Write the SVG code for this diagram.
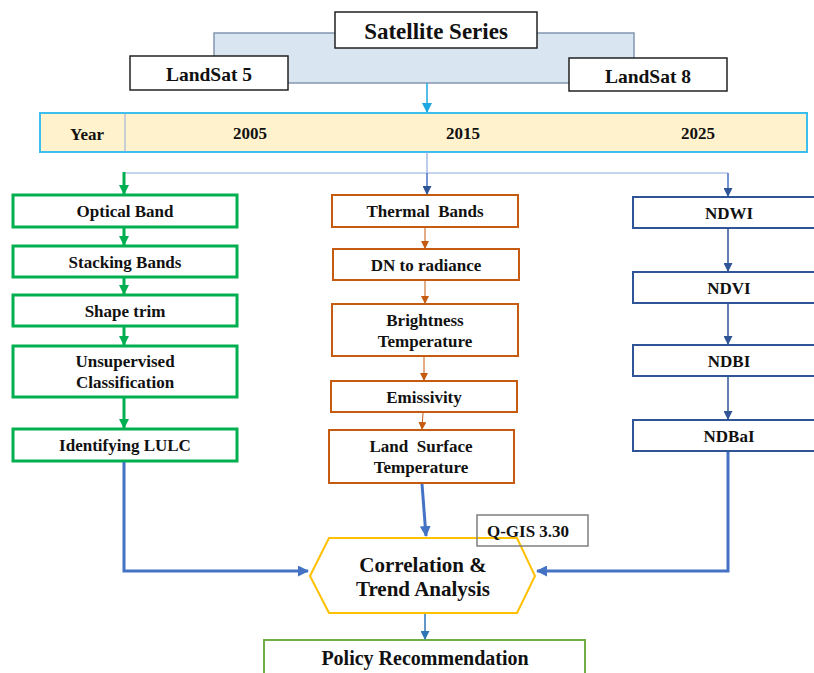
<svg xmlns="http://www.w3.org/2000/svg" width="814" height="673" viewBox="0 0 814 673">
<defs>
<style>
text{font-family:"Liberation Serif","Times New Roman",serif;font-weight:bold;fill:#111;text-anchor:middle;dominant-baseline:central;white-space:pre}
.box{fill:#fff;stroke:#222;stroke-width:1.5}
.g{fill:#fff;stroke:#00B050;stroke-width:3}
.o{fill:#fff;stroke:#C55A11;stroke-width:2}
.b{fill:#fff;stroke:#2F5597;stroke-width:2}
.t15{font-size:17px}
</style>
<marker id="aCyan" markerUnits="userSpaceOnUse" markerWidth="10" markerHeight="10" refX="9" refY="5" orient="auto"><path d="M0,0 L10,5 L0,10 Z" fill="#1CA8E0"/></marker>
<marker id="aGreen" markerUnits="userSpaceOnUse" markerWidth="10" markerHeight="10" refX="9" refY="5" orient="auto"><path d="M0,0 L10,5 L0,10 Z" fill="#00B050"/></marker>
<marker id="aOrange" markerUnits="userSpaceOnUse" markerWidth="8" markerHeight="8" refX="7" refY="4" orient="auto"><path d="M0,0 L8,4 L0,8 Z" fill="#C55A11"/></marker>
<marker id="aNavy" markerUnits="userSpaceOnUse" markerWidth="9" markerHeight="9" refX="8" refY="4.5" orient="auto"><path d="M0,0 L9,4.5 L0,9 Z" fill="#2F5597"/></marker>
<marker id="aBlue" markerUnits="userSpaceOnUse" markerWidth="11" markerHeight="11" refX="10" refY="5.5" orient="auto"><path d="M0,0 L11,5.5 L0,11 Z" fill="#4472C4"/></marker>
<marker id="aSky" markerUnits="userSpaceOnUse" markerWidth="9" markerHeight="9" refX="8" refY="4.5" orient="auto"><path d="M0,0 L9,4.5 L0,9 Z" fill="#2E75B6"/></marker>
</defs>
<rect width="814" height="673" fill="#fff"/>

<g id="satellite-band">
<rect x="214" y="33" width="420" height="50" fill="#DAE5F2" stroke="#8497B0" stroke-width="1.5"/>
</g>
<g id="satellite-series">
<rect class="box" x="335" y="12" width="202" height="36"/>
<text x="436" y="31" font-size="23">Satellite Series</text>
</g>
<g id="landsat5">
<rect class="box" x="130" y="56" width="158" height="34"/>
<text x="209" y="74" font-size="19.5">LandSat 5</text>
</g>
<g id="landsat8">
<rect class="box" x="569" y="58" width="158" height="33"/>
<text x="648" y="76" font-size="19.5">LandSat 8</text>
</g>

<g id="year-bar">
<rect x="40" y="113" width="767" height="39" fill="#FFF2CC" stroke="#3BBFEF" stroke-width="2"/>
<line x1="125" y1="113" x2="125" y2="152" stroke="#8FAADC" stroke-width="1"/>
<text x="87" y="134" class="t15">Year</text>
<text x="250" y="133" class="t15">2005</text>
<text x="463" y="133" class="t15">2015</text>
<text x="698" y="133" class="t15">2025</text>
</g>

<g id="optical-band"><rect class="g" x="13" y="195" width="224" height="32"/><text x="125" y="211" class="t15">Optical Band</text></g>
<g id="stacking-bands"><rect class="g" x="13" y="246" width="224" height="31"/><text x="125" y="262" class="t15">Stacking Bands</text></g>
<g id="shape-trim"><rect class="g" x="13" y="295" width="224" height="31"/><text x="125" y="311" class="t15">Shape trim</text></g>
<g id="unsupervised"><rect class="g" x="13" y="346" width="224" height="51"/><text x="125" y="361" class="t15">Unsupervised</text><text x="125" y="382" class="t15">Classification</text></g>
<g id="identifying-lulc"><rect class="g" x="13" y="429" width="224" height="32"/><text x="125" y="445" class="t15">Identifying LULC</text></g>

<g id="thermal-bands"><rect class="o" x="332" y="195" width="186" height="32"/><text x="425" y="211" class="t15" xml:space="preserve">Thermal  Bands</text></g>
<g id="dn-radiance"><rect class="o" x="333" y="249" width="186" height="31"/><text x="426" y="265" class="t15">DN to radiance</text></g>
<g id="brightness"><rect class="o" x="332" y="304" width="186" height="52"/><text x="425" y="320" class="t15">Brightness</text><text x="425" y="341" class="t15">Temperature</text></g>
<g id="emissivity"><rect class="o" x="331" y="381" width="186" height="31"/><text x="424" y="397" class="t15">Emissivity</text></g>
<g id="lst"><rect class="o" x="329" y="430" width="185" height="53"/><text x="421" y="446" class="t15" xml:space="preserve">Land  Surface</text><text x="421" y="467" class="t15">Temperature</text></g>

<g id="ndwi"><rect class="b" x="633" y="197" width="190" height="31"/><text x="729" y="213" class="t15">NDWI</text></g>
<g id="ndvi"><rect class="b" x="633" y="272" width="190" height="31"/><text x="729" y="288" class="t15">NDVI</text></g>
<g id="ndbi"><rect class="b" x="633" y="345" width="190" height="31"/><text x="729" y="361" class="t15">NDBI</text></g>
<g id="ndbai"><rect class="b" x="633" y="420" width="190" height="31"/><text x="729" y="436" class="t15">NDBaI</text></g>

<g id="correlation">
<polygon points="310,576 329,538 517,538 535,576 517,613 329,613" fill="#fff" stroke="#FFC000" stroke-width="2"/>
<text x="423" y="565" font-size="21">Correlation &amp;</text>
<text x="423" y="589" font-size="21">Trend Analysis</text>
</g>
<g id="qgis">
<rect x="477" y="515" width="111" height="31" fill="none" stroke="#7F7F7F" stroke-width="1.5"/>
<text x="528" y="531" font-size="17">Q-GIS 3.30</text>
</g>
<g id="policy">
<rect x="264" y="640" width="321" height="40" fill="#fff" stroke="#70AD47" stroke-width="2"/>
<text x="425" y="658" font-size="20">Policy Recommendation</text>
</g>

<g id="connectors" fill="none">
<line x1="427" y1="83" x2="427" y2="112" stroke="#1CA8E0" stroke-width="1.5" marker-end="url(#aCyan)"/>
<line x1="427" y1="152" x2="427" y2="173" stroke="#8FAADC" stroke-width="1.2"/>
<line x1="124" y1="173" x2="728" y2="173" stroke="#8FAADC" stroke-width="1.2"/>
<line x1="124" y1="172" x2="124" y2="194" stroke="#00B050" stroke-width="3" marker-end="url(#aGreen)"/>
<line x1="427" y1="173" x2="427" y2="194" stroke="#4472C4" stroke-width="1.5" marker-end="url(#aNavy)"/>
<line x1="728" y1="173" x2="728" y2="196" stroke="#4472C4" stroke-width="1.5" marker-end="url(#aNavy)"/>
<line x1="124" y1="228" x2="124" y2="245" stroke="#00B050" stroke-width="3" marker-end="url(#aGreen)"/>
<line x1="124" y1="278" x2="124" y2="294" stroke="#00B050" stroke-width="3" marker-end="url(#aGreen)"/>
<line x1="124" y1="327" x2="124" y2="345" stroke="#00B050" stroke-width="3" marker-end="url(#aGreen)"/>
<line x1="124" y1="398" x2="124" y2="428" stroke="#00B050" stroke-width="3" marker-end="url(#aGreen)"/>
<line x1="425" y1="228" x2="425" y2="248" stroke="#C55A11" stroke-width="1" marker-end="url(#aOrange)"/>
<line x1="425" y1="281" x2="425" y2="303" stroke="#C55A11" stroke-width="1" marker-end="url(#aOrange)"/>
<line x1="424" y1="357" x2="424" y2="380" stroke="#C55A11" stroke-width="1" marker-end="url(#aOrange)"/>
<line x1="423" y1="413" x2="422" y2="429" stroke="#C55A11" stroke-width="1" marker-end="url(#aOrange)"/>
<line x1="728" y1="229" x2="728" y2="271" stroke="#2F5597" stroke-width="1.5" marker-end="url(#aNavy)"/>
<line x1="728" y1="304" x2="728" y2="344" stroke="#2F5597" stroke-width="1.5" marker-end="url(#aNavy)"/>
<line x1="728" y1="377" x2="728" y2="419" stroke="#2F5597" stroke-width="1.5" marker-end="url(#aNavy)"/>
<line x1="422" y1="484" x2="426" y2="536" stroke="#4472C4" stroke-width="3" marker-end="url(#aBlue)"/>
<polyline points="124,462 124,571 308,571" stroke="#4472C4" stroke-width="3" marker-end="url(#aBlue)"/>
<polyline points="728,452 728,571 537,571" stroke="#4472C4" stroke-width="3" marker-end="url(#aBlue)"/>
<line x1="425" y1="614" x2="425" y2="639" stroke="#2E75B6" stroke-width="1.5" marker-end="url(#aSky)"/>
</g>
</svg>
